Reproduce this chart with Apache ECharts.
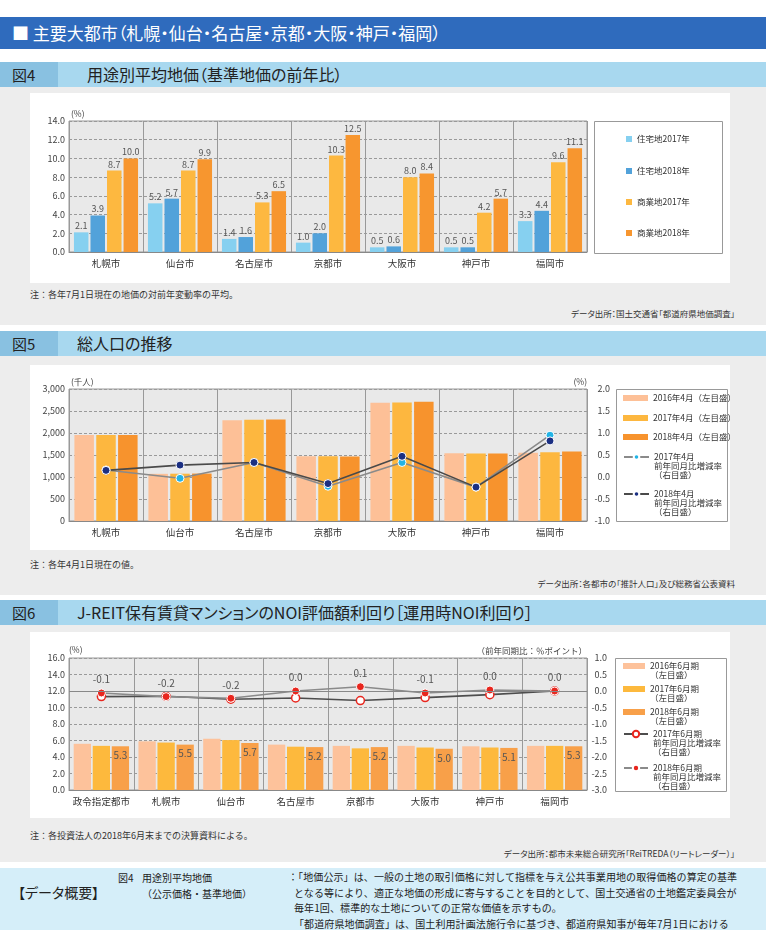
<!DOCTYPE html>
<html lang="ja">
<head>
<meta charset="utf-8">
<title>主要大都市</title>
<script src="https://cdn.jsdelivr.net/npm/echarts@6/dist/echarts.min.js"></script>
<style>
  body { margin: 0; }
  #page { position: relative; width: 766px; height: 930px; background: #fff; overflow: hidden;
    font-family: "Noto Sans CJK JP", sans-serif; color: #222; }
  .abs { position: absolute; }
  .banner { left: 0; top: 17px; width: 766px; height: 32px; background: #2f6bbd; color: #fff;
    font-size: 17px; line-height: 32px; padding-left: 12px; box-sizing: border-box;
    font-feature-settings: "palt"; white-space: nowrap; }
  .fighead { left: 0; width: 766px; height: 25px; background: #a8d8ef; }
  .fighead .no { position: absolute; left: 0; top: 0; width: 58px; height: 25px; background: #89c1e1;
    font-size: 15px; line-height: 25px; padding-left: 12px; box-sizing: border-box; }
  .fighead .ttl { position: absolute; top: 0; font-size: 16px; line-height: 25px;
    font-feature-settings: "palt"; white-space: nowrap; }
  .panel { left: 0; width: 766px; background: #ededed; }
  .note { left: 30px; font-size: 9px; line-height: 12px; white-space: nowrap; color: #333; }
  .src { right: 31px; font-size: 8.5px; line-height: 12px; white-space: nowrap; color: #333;
    font-feature-settings: "palt"; }
  .chart { left: 30px; width: 700px; background: #fff; }
  .gaiyo { left: 0; top: 868px; width: 766px; height: 62px; background: #d5eef9; }
</style>
</head>
<body>
<div id="page">
  <div class="abs banner">■ 主要大都市（札幌・仙台・名古屋・京都・大阪・神戸・福岡）</div>

  <div class="abs fighead" style="top:62px"><div class="no">図4</div><div class="ttl" style="left:87px">用途別平均地価（基準地価の前年比）</div></div>
  <div class="abs panel" style="top:87px;height:238px"></div>
  <div class="abs chart" id="chart1" style="top:93px;height:190px"></div>
  <div class="abs note" style="top:289px">注：各年7月1日現在の地価の対前年変動率の平均。</div>
  <div class="abs src" style="top:307px">データ出所：国土交通省「都道府県地価調査」</div>

  <div class="abs fighead" style="top:331px"><div class="no">図5</div><div class="ttl" style="left:77px">総人口の推移</div></div>
  <div class="abs panel" style="top:356px;height:239px"></div>
  <div class="abs chart" id="chart2" style="top:365px;height:185px"></div>
  <div class="abs note" style="top:559px">注：各年4月1日現在の値。</div>
  <div class="abs src" style="top:577px">データ出所：各都市の「推計人口」及び総務省公表資料</div>

  <div class="abs fighead" style="top:600px"><div class="no">図6</div><div class="ttl" style="left:77px">J-REIT保有賃貸マンションのNOI評価額利回り［運用時NOI利回り］</div></div>
  <div class="abs panel" style="top:625px;height:237px"></div>
  <div class="abs chart" id="chart3" style="top:632px;height:186px"></div>
  <div class="abs note" style="top:830px">注：各投資法人の2018年6月末までの決算資料による。</div>
  <div class="abs src" style="top:847px">データ出所：都市未来総合研究所「ReiTREDA（リートレーダー）」</div>

  <div class="abs gaiyo">
    <div class="abs" style="left:18px;top:14px;font-size:14px;line-height:20px;font-feature-settings:'palt'">【データ概要】</div>
    <div class="abs" style="left:118px;top:2px;font-size:10px;line-height:15.5px">図4</div>
    <div class="abs" style="left:142px;top:2px;font-size:10px;line-height:15.5px;white-space:nowrap">用途別平均地価<br>（公示価格・基準地価）</div>
    <div class="abs" style="left:294px;top:1px;font-size:10px;line-height:15.5px;white-space:nowrap;text-indent:-6px;letter-spacing:0.1px">：「地価公示」は、一般の土地の取引価格に対して指標を与え公共事業用地の取得価格の算定の基準<br>となる等により、適正な地価の形成に寄与することを目的として、国土交通省の土地鑑定委員会が<br>毎年1回、標準的な土地についての正常な価値を示すもの。<br>「都道府県地価調査」は、国土利用計画法施行令に基づき、都道府県知事が毎年7月1日における</div>
  </div>
</div>

<script>
// 図4 用途別平均地価
const cities7 = ["札幌市", "仙台市", "名古屋市", "京都市", "大阪市", "神戸市", "福岡市"];
const res2017 = [2.1, 5.2, 1.4, 1.0, 0.5, 0.5, 3.3];
const res2018 = [3.9, 5.7, 1.6, 2.0, 0.6, 0.5, 4.4];
const com2017 = [8.7, 8.7, 5.3, 10.3, 8.0, 4.2, 9.6];
const com2018 = [10.0, 9.9, 6.5, 12.5, 8.4, 5.7, 11.1];
const landTicks = [0, 14, 2];

// 図5 総人口（千人）と増減率（%）
const pop2016 = [1952, 1072, 2290, 1470, 2690, 1537, 1550];
const pop2017 = [1955, 1075, 2300, 1470, 2695, 1535, 1565];
const pop2018 = [1957, 1078, 2305, 1468, 2710, 1532, 1580];
const popRate2017 = [0.16, -0.03, 0.33, -0.21, 0.33, -0.23, 0.95];
const popRate2018 = [0.15, 0.27, 0.33, -0.15, 0.47, -0.23, 0.82];
const popTicks = [0, 3000, 500];
const popRateTicks = [-1, 2, 0.5];

// 図6 NOI利回り（%）と前年同期比（%ポイント）
const cities8 = ["政令指定都市", "札幌市", "仙台市", "名古屋市", "京都市", "大阪市", "神戸市", "福岡市"];
const noi2016 = [5.6, 5.9, 6.2, 5.5, 5.35, 5.35, 5.3, 5.35];
const noi2017 = [5.35, 5.75, 6.05, 5.25, 5.05, 5.15, 5.15, 5.35];
const noi2018 = [5.3, 5.5, 5.7, 5.2, 5.2, 5.0, 5.1, 5.3];
const noiChg2017 = [-0.17, -0.16, -0.25, -0.21, -0.29, -0.2, -0.11, 0.0];
const noiChg2018 = [-0.06, -0.17, -0.22, 0.0, 0.13, -0.06, 0.03, 0.0];
const noiTicks = [0, 16, 2];
const noiChgTicks = [-3, 1, 0.5];

const FONT = '"Noto Sans CJK JP", sans-serif';
const LH = 9;

const fix1 = (v) => Number(v).toFixed(1);

function catAxis(data) {
  return {
    type: "category",
    data: data,
    axisLine: { lineStyle: { color: "#888" } },
    axisTick: { show: false },
    axisLabel: { color: "#333", fontSize: 9.5, margin: 7, interval: 0, fontFamily: FONT },
    splitLine: { show: true, interval: 0, lineStyle: { color: "#999", width: 1 } },
  };
}

function valAxis(ticks, fmt, opts) {
  return Object.assign({
    type: "value",
    min: ticks[0],
    max: ticks[1],
    interval: ticks[2],
    axisLine: { show: false },
    axisTick: { show: false },
    axisLabel: { color: "#444", fontSize: 9, margin: 4, formatter: fmt, fontFamily: FONT },
    splitLine: { show: true, lineStyle: { color: "#9a9a9a", type: [3, 2], width: 1 } },
    nameLocation: "end",
    nameGap: 3,
  }, opts);
}

function gridBox(top, height) {
  return {
    left: 39, top: top, width: 518, height: height,
    show: true, backgroundColor: "#e9e9e9", borderColor: "#999", borderWidth: 1,
    outerBoundsMode: "none",
  };
}

// one legend per entry so that the icon sits on the first text line
function legendEntry(name, text, left, cy, w, h, icon) {
  const lines = text.split("\n").length;
  const total = 2 * lines - 1;
  const leg = {
    data: [name],
    left: left,
    top: cy - (total * LH) / 2,
    padding: 0,
    itemGap: 0,
    itemWidth: w,
    itemHeight: h,
    selectedMode: false,
    formatter: () => "\n".repeat(lines - 1) + text,
    textStyle: { fontSize: 8.5, lineHeight: LH, color: "#333", fontFamily: FONT },
  };
  if (icon) leg.icon = icon;
  return leg;
}

function legendFrame(x, y, w, h) {
  return {
    type: "rect",
    shape: { x: x + 0.5, y: y + 0.5, width: w, height: h },
    style: { fill: "#fff", stroke: "#999", lineWidth: 1 },
  };
}

const getOptionChart1 = () => {
  const barLabel = { show: true, position: "top", distance: 2, fontSize: 9, color: "#555", formatter: (p) => fix1(p.value) };
  const bar = (name, data, color) => ({
    name: name, type: "bar", data: data, barWidth: 14.5, barGap: "14%",
    itemStyle: { color: color }, label: barLabel,
  });
  return {
    animation: false,
    textStyle: { fontFamily: FONT },
    grid: gridBox(28, 131),
    xAxis: catAxis(cities7),
    yAxis: valAxis(landTicks, fix1, {
      name: "(%)", nameTextStyle: { align: "left", verticalAlign: "bottom", fontSize: 8.5, color: "#444", padding: [0, 0, 0, 2] },
    }),
    graphic: [legendFrame(564, 28, 128, 132)],
    legend: [
      legendEntry("住宅地2017年", "住宅地2017年", 596, 46, 6, 6, "rect"),
      legendEntry("住宅地2018年", "住宅地2018年", 596, 78, 6, 6, "rect"),
      legendEntry("商業地2017年", "商業地2017年", 596, 109, 6, 6, "rect"),
      legendEntry("商業地2018年", "商業地2018年", 596, 140, 6, 6, "rect"),
    ],
    series: [
      bar("住宅地2017年", res2017, "#86d0f0"),
      bar("住宅地2018年", res2018, "#52a2da"),
      bar("商業地2017年", com2017, "#fdb840"),
      bar("商業地2018年", com2018, "#f7962f"),
    ],
  };
};

const getOptionChart2 = () => {
  const bar = (name, data, color) => ({
    name: name, type: "bar", data: data, barWidth: 19.5, barGap: "12%", itemStyle: { color: color },
  });
  const line = (name, data, lineColor, dotColor) => ({
    name: name, type: "line", yAxisIndex: 1, data: data,
    symbol: "circle", symbolSize: 8,
    lineStyle: { color: lineColor, width: 1.6 },
    itemStyle: { color: dotColor, borderColor: "#fff", borderWidth: 1 },
  });
  return {
    animation: false,
    textStyle: { fontFamily: FONT },
    grid: gridBox(24, 132),
    xAxis: catAxis(cities7),
    yAxis: [
      valAxis(popTicks, (v) => v.toLocaleString("en-US"), {
        name: "(千人)", nameTextStyle: { align: "left", verticalAlign: "bottom", fontSize: 8.5, color: "#444", padding: [0, 0, 0, 2] },
      }),
      valAxis(popRateTicks, fix1, {
        position: "right", splitLine: { show: false },
        axisLabel: { color: "#444", fontSize: 9, margin: 23, align: "right", formatter: fix1, fontFamily: FONT },
        name: "(%)", nameTextStyle: { align: "right", verticalAlign: "bottom", fontSize: 8.5, color: "#444" },
      }),
    ],
    graphic: [legendFrame(586, 24, 111, 132)],
    legend: [
      legendEntry("2016年4月", "2016年4月（左目盛）", 593, 33, 25, 6, "rect"),
      legendEntry("2017年4月", "2017年4月（左目盛）", 593, 53, 25, 6, "rect"),
      legendEntry("2018年4月", "2018年4月（左目盛）", 593, 72, 25, 6, "rect"),
      legendEntry("2017年4月増減率", "2017年4月\n前年同月比増減率\n（右目盛）", 593, 92, 25, 7),
      legendEntry("2018年4月増減率", "2018年4月\n前年同月比増減率\n（右目盛）", 593, 129, 25, 7),
    ],
    series: [
      bar("2016年4月", pop2016, "#fdc097"),
      bar("2017年4月", pop2017, "#fdb73f"),
      bar("2018年4月", pop2018, "#f7932d"),
      line("2017年4月増減率", popRate2017, "#8a8a8a", "#22b4e6"),
      line("2018年4月増減率", popRate2018, "#4a4a4a", "#1b2f82"),
    ],
  };
};

const getOptionChart3 = () => {
  const bar = (name, data, color, withLabel) => ({
    name: name, type: "bar", data: data, barWidth: 17.3, barGap: "10%", itemStyle: { color: color },
    label: withLabel
      ? { show: true, position: "insideTop", distance: 4, fontSize: 10, color: "#555", formatter: (p) => fix1(p.value) }
      : { show: false },
  });
  return {
    animation: false,
    textStyle: { fontFamily: FONT },
    grid: gridBox(26, 132),
    xAxis: catAxis(cities8),
    yAxis: [
      valAxis(noiTicks, fix1, {
        name: "(%)", nameTextStyle: { align: "left", verticalAlign: "bottom", fontSize: 8.5, color: "#444", padding: [0, 0, 0, 0] },
      }),
      valAxis(noiChgTicks, fix1, {
        position: "right", splitLine: { show: false },
        axisLabel: { color: "#444", fontSize: 9, margin: 20, align: "right", formatter: fix1, fontFamily: FONT },
        name: "（前年同期比：％ポイント）", nameTextStyle: { align: "right", verticalAlign: "bottom", fontSize: 8.5, color: "#444" },
      }),
    ],
    graphic: [legendFrame(585, 26, 111, 133)],
    legend: [
      legendEntry("2016年6月期", "2016年6月期\n（左目盛）", 593, 34, 22, 6, "rect"),
      legendEntry("2017年6月期", "2017年6月期\n（左目盛）", 593, 57, 22, 6, "rect"),
      legendEntry("2018年6月期", "2018年6月期\n（左目盛）", 593, 80, 22, 6, "rect"),
      legendEntry("2017年6月期増減", "2017年6月期\n前年同月比増減率\n（右目盛）", 593, 102, 24, 8),
      legendEntry("2018年6月期増減", "2018年6月期\n前年同月比増減率\n（右目盛）", 593, 136, 24, 8),
    ],
    series: [
      bar("2016年6月期", noi2016, "#fdc29b", false),
      bar("2017年6月期", noi2017, "#fdb93d", false),
      bar("2018年6月期", noi2018, "#f8a049", true),
      {
        name: "2017年6月期増減", type: "line", yAxisIndex: 1, data: noiChg2017,
        symbol: "circle", symbolSize: 8,
        lineStyle: { color: "#4d4d4d", width: 1.6 },
        itemStyle: { color: "#fff", borderColor: "#e8261e", borderWidth: 1.5 },
        markLine: {
          silent: true, symbol: ["none", "none"], label: { show: false },
          lineStyle: { color: "#888", type: "solid", width: 1 },
          data: [{ yAxis: 0 }],
        },
      },
      {
        name: "2018年6月期増減", type: "line", yAxisIndex: 1, data: noiChg2018,
        symbol: "circle", symbolSize: 8,
        lineStyle: { color: "#8a8a8a", width: 1.6 },
        itemStyle: { color: "#e8261e", borderColor: "#fff", borderWidth: 1 },
        label: { show: true, position: "top", distance: 4, fontSize: 10, color: "#555", formatter: (p) => fix1(p.value) },
      },
    ],
  };
};

const initCharts = () => {
  const chart1 = echarts.init(document.getElementById("chart1"));
  const chart2 = echarts.init(document.getElementById("chart2"));
  const chart3 = echarts.init(document.getElementById("chart3"));

  chart1.setOption(getOptionChart1());
  chart2.setOption(getOptionChart2());
  chart3.setOption(getOptionChart3());
};

window.addEventListener("load", () => {
  initCharts();
});
</script>
</body>
</html>
